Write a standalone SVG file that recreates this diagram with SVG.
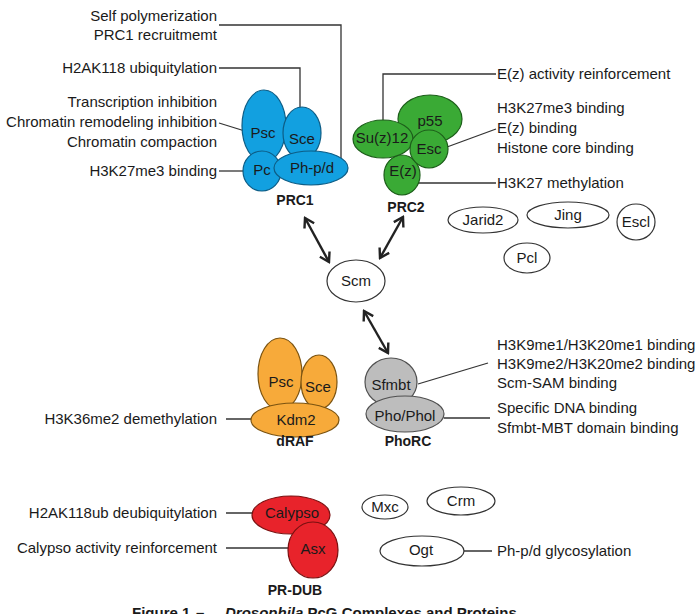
<svg xmlns="http://www.w3.org/2000/svg" width="696" height="614" viewBox="0 0 696 614">
<style>
text{font-family:"Liberation Sans",Arial,sans-serif;font-size:15px;fill:#1a1a1a}
.r{text-anchor:end}
.c{text-anchor:middle}
.b{font-weight:bold;font-size:14px;text-anchor:middle}
.blue{fill:#12a0e0;stroke:#0d5d86;stroke-width:1.2}
.green{fill:#3aaa35;stroke:#1d5e1a;stroke-width:1.2}
.orange{fill:#f7aa3a;stroke:#7b5310;stroke-width:1.2}
.gray{fill:#bdbdbd;stroke:#505050;stroke-width:1.2}
.red{fill:#e8232b;stroke:#7a1010;stroke-width:1.2}
.white{fill:#fff;stroke:#333;stroke-width:1.2}
.ln{fill:none;stroke:#333;stroke-width:1.3}
.arr{fill:none;stroke:#222;stroke-width:2.4;marker-start:url(#ah);marker-end:url(#ah)}
</style>
<defs>
<marker id="ah" viewBox="-12 -8 14 16" refX="0" refY="0" markerWidth="14" markerHeight="16" markerUnits="userSpaceOnUse" orient="auto-start-reverse">
<path d="M-9,-5.5 L0,0 L-9,5.5" fill="none" stroke="#222" stroke-width="2.4"/>
</marker>
</defs>
<rect width="696" height="614" fill="#fff"/>

<g id="connectors">
<path class="ln" d="M219,25 H341 V168"/>
<path class="ln" d="M219,68 H300 V128"/>
<path class="ln" d="M219,123 L248,132"/>
<path class="ln" d="M219,171 H247"/>
<path class="ln" d="M496,74 H383 V127"/>
<path class="ln" d="M496,129 L447,147"/>
<path class="ln" d="M496,183 H407"/>
<path class="ln" d="M226,419 H270"/>
<path class="ln" d="M488,363 L418,384"/>
<path class="ln" d="M490,418 H444"/>
<path class="ln" d="M226,513 H260"/>
<path class="ln" d="M226,548 H298"/>
<path class="ln" d="M445,551 H492"/>
<path class="arr" d="M305,218 L329,262"/>
<path class="arr" d="M403,217 L380,258"/>
<path class="arr" d="M364,311 L388,353"/>
</g>

<g id="prc1">
<ellipse class="blue" cx="264" cy="126" rx="22" ry="36"/>
<ellipse class="blue" cx="302" cy="133" rx="19" ry="26"/>
<ellipse class="blue" cx="262" cy="171" rx="19" ry="20"/>
<ellipse class="blue" cx="311" cy="168" rx="37" ry="17"/>
<text class="c" x="263" y="138">Psc</text>
<text class="c" x="302" y="144">Sce</text>
<text class="c" x="262" y="175">Pc</text>
<text class="c" x="312" y="173">Ph-p/d</text>
<text class="b" x="295" y="205">PRC1</text>
</g>

<g id="prc2">
<ellipse class="green" cx="430" cy="119" rx="32" ry="24"/>
<ellipse class="green" cx="402" cy="175" rx="18" ry="20"/>
<ellipse class="green" cx="383" cy="139" rx="30" ry="19"/>
<ellipse class="green" cx="429" cy="149" rx="19" ry="19"/>
<text class="c" x="430" y="126">p55</text>
<text class="c" x="382" y="143">Su(z)12</text>
<text class="c" x="429" y="154">Esc</text>
<text class="c" x="403" y="176">E(z)</text>
<text class="b" x="406" y="212">PRC2</text>
</g>

<g id="scm">
<ellipse class="white" cx="356" cy="281" rx="29" ry="21"/>
<text class="c" x="356" y="286">Scm</text>
</g>
<g id="jarid2">
<ellipse class="white" cx="483" cy="220" rx="35" ry="13"/>
<text class="c" x="483" y="225">Jarid2</text>
</g>
<g id="jing">
<ellipse class="white" cx="568" cy="215" rx="41" ry="13"/>
<text class="c" x="568" y="220">Jing</text>
</g>
<g id="escl">
<ellipse class="white" cx="636" cy="222" rx="19" ry="18"/>
<text class="c" x="636" y="227">Escl</text>
</g>
<g id="pcl">
<ellipse class="white" cx="527" cy="258" rx="23" ry="15"/>
<text class="c" x="527" y="263">Pcl</text>
</g>

<g id="draf">
<ellipse class="orange" cx="280" cy="374" rx="22" ry="36"/>
<ellipse class="orange" cx="319" cy="382" rx="18" ry="27"/>
<ellipse class="orange" cx="295" cy="420" rx="44" ry="17"/>
<text class="c" x="281" y="387">Psc</text>
<text class="c" x="318" y="392">Sce</text>
<text class="c" x="296" y="425">Kdm2</text>
<text class="b" x="295" y="446">dRAF</text>
</g>

<g id="phorc">
<ellipse class="gray" cx="391" cy="382" rx="26" ry="24"/>
<ellipse class="gray" cx="405" cy="414" rx="39" ry="18"/>
<text class="c" x="391" y="390">Sfmbt</text>
<text class="c" x="405" y="421">Pho/Phol</text>
<text class="b" x="408" y="446">PhoRC</text>
</g>

<g id="prdub">
<ellipse class="red" cx="291" cy="515" rx="39" ry="19"/>
<ellipse class="red" cx="313" cy="550" rx="25" ry="28"/>
<text class="c" x="292" y="518">Calypso</text>
<text class="c" x="313" y="554">Asx</text>
<text class="b" x="295" y="595">PR-DUB</text>
</g>

<g id="mxc">
<ellipse class="white" cx="385" cy="507" rx="23" ry="12"/>
<text class="c" x="385" y="512">Mxc</text>
</g>
<g id="crm">
<ellipse class="white" cx="461" cy="501" rx="34" ry="14"/>
<text class="c" x="461" y="506">Crm</text>
</g>
<g id="ogt">
<ellipse class="white" cx="422" cy="551" rx="42" ry="15"/>
<text class="c" x="421" y="555">Ogt</text>
</g>

<g id="annotations">
<text class="r" x="217" y="21">Self polymerization</text>
<text class="r" x="217" y="40">PRC1 recruitmemt</text>
<text class="r" x="217" y="73">H2AK118 ubiquitylation</text>
<text class="r" x="217" y="107">Transcription inhibition</text>
<text class="r" x="217" y="127">Chromatin remodeling inhibition</text>
<text class="r" x="217" y="147">Chromatin compaction</text>
<text class="r" x="217" y="176">H3K27me3 binding</text>
<text x="497" y="79">E(z) activity reinforcement</text>
<text x="497" y="113">H3K27me3 binding</text>
<text x="497" y="133">E(z) binding</text>
<text x="497" y="153">Histone core binding</text>
<text x="497" y="188">H3K27 methylation</text>
<text x="497" y="350">H3K9me1/H3K20me1 binding</text>
<text x="497" y="369">H3K9me2/H3K20me2 binding</text>
<text x="497" y="388">Scm-SAM binding</text>
<text x="497" y="413">Specific DNA binding</text>
<text x="497" y="433">Sfmbt-MBT domain binding</text>
<text class="r" x="217" y="424">H3K36me2 demethylation</text>
<text class="r" x="217" y="518">H2AK118ub deubiquitylation</text>
<text class="r" x="217" y="553">Calypso activity reinforcement</text>
<text x="497" y="556">Ph-p/d glycosylation</text>
</g>

<text x="132" y="618" style="font-weight:bold;font-size:15px">Figure 1 <tspan x="196">–</tspan> <tspan x="225" font-style="italic">Drosophila</tspan> PcG Complexes and Proteins</text>
</svg>
